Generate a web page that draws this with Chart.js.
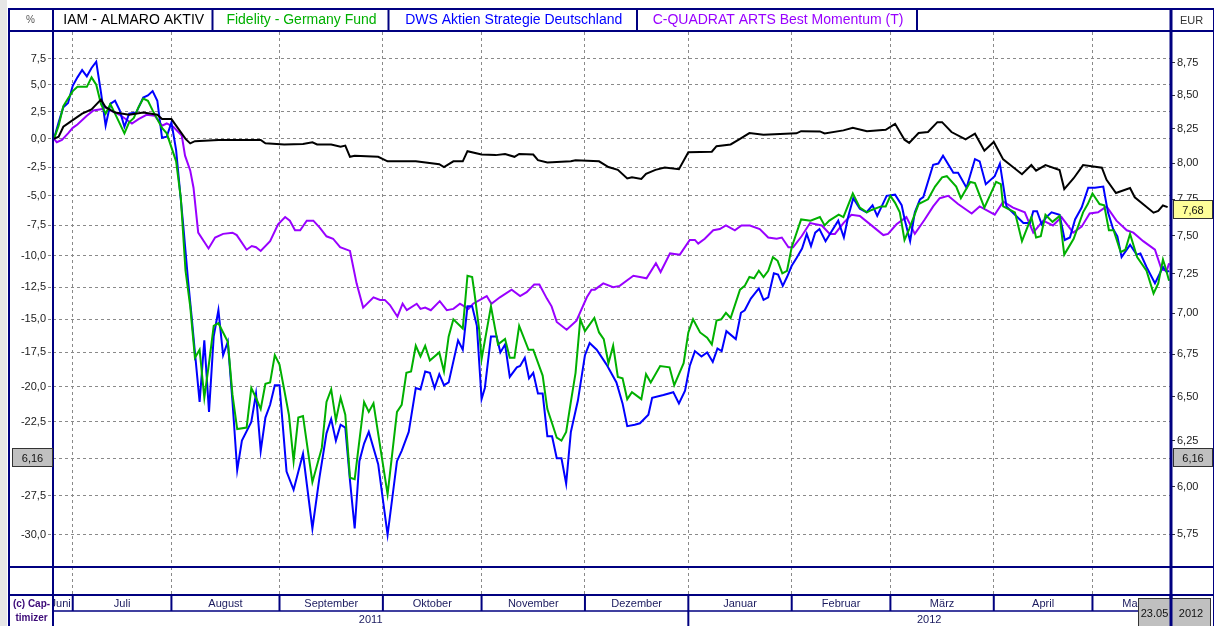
<!DOCTYPE html>
<html>
<head>
<meta charset="utf-8">
<title>IAM - ALMARO AKTIV im Vergleich</title>
<script src="https://cdn.jsdelivr.net/npm/chart.js"></script>
<style>
  html, body { margin: 0; padding: 0; background: #fff; }
</style>
</head>
<body>
<canvas id="chart" width="1215" height="626"></canvas>
<script>
// x = trading day since 27.06.2011 (0) ... 23.05.2012 (237), y = performance in %
const iam = [
  [0,0],[1,0.2],[2,1.1],[4,1.7],[6,2.3],[8,2.7],[10,3.6],[11,2.9],[13,2.4],[16,2.2],
  [19,2.4],[22,2.2],[23,1.8],[25,1.8],[26,1.2],[28,0],[29,-0.4],[30,-0.2],[35,-0.1],[44,-0.1],
  [45,-0.4],[49,-0.5],[53,-0.45],[55,-0.3],[56,-0.5],[59,-0.5],[61,-0.7],[62,-0.6],[63,-1.6],[64,-1.5],
  [69,-1.6],[71,-2.0],[77,-2.0],[82,-2.25],[83,-2.5],[85,-2.0],[87,-2.0],[88,-1.1],[91,-1.4],[94,-1.45],
  [96,-1.35],[98,-1.6],[99,-1.35],[102,-1.4],[103,-1.9],[105,-2.1],[110,-2.0],[111,-1.9],[116,-2.0],[118,-2.5],
  [120,-2.75],[122,-3.5],[123,-3.4],[125,-3.55],[126,-3.1],[128,-2.75],[130,-2.55],[133,-2.7],[135,-1.2],[140,-1.15],
  [141,-0.65],[144,-0.5],[146,0],[148,0.53],[151,0.38],[158,0.5],[159,0.7],[163,0.68],[164,0.5],[168,0.77],
  [170,1.0],[173,0.7],[177,0.83],[179,1.37],[181,-0.07],[182,-0.36],[184,0.53],[186,0.62],[188,1.52],[189,1.52],
  [191,0.62],[194,-0.04],[196,0.47],[198,-1.06],[200,-0.27],[202,-1.83],[204,-2.47],[206,-3.13],[208,-2.33],[209,-2.82],
  [211,-2.33],[214,-2.77],[215,-4.42],[217,-3.48],[219,-2.33],[223,-2.56],[224,-3.62],[226,-4.76],[229,-4.33],[230,-5.12],
  [234,-6.43],[235,-6.29],[236,-5.82],[237,-5.96]
];
const fidelity = [
  [0,0],[1,1.2],[2,3.0],[3,3.7],[4,4.4],[5,4.8],[7,4.8],[8,5.7],[9,5.0],[10,3.2],
  [11,2.3],[12,3.2],[13,2.3],[15,0.5],[16,1.5],[17,1.9],[18,2.9],[19,3.7],[20,3.5],[21,2.6],
  [23,1.0],[24,0.5],[26,-2.0],[27,-5.2],[28,-11.2],[29,-14.0],[30,-17.9],[31,-17.3],[32,-20.8],[33,-18.3],
  [34,-15.5],[35,-15.3],[37,-16.7],[38,-20.6],[39,-23.0],[41,-22.9],[42,-20.1],[43,-20.8],[44,-21.6],[45,-19.8],
  [46,-19.7],[47,-17.7],[48,-18.4],[50,-22.0],[51,-25.2],[52,-22.2],[53,-22.1],[55,-26.6],[57,-24.3],[58,-21.1],
  [59,-20.2],[60,-22.4],[61,-20.8],[62,-22.0],[63,-26.3],[64,-26.4],[66,-21.1],[67,-21.8],[68,-21.2],[71,-27.4],
  [73,-21.8],[74,-21.3],[75,-19.0],[76,-18.9],[77,-17.0],[78,-17.8],[79,-17.0],[80,-18.1],[82,-17.5],[83,-18.9],
  [84,-16.3],[85,-15.0],[87,-15.7],[88,-11.6],[89,-11.7],[89.5,-13.0],[90.5,-15.8],[91,-18.0],[93,-14.0],[94.5,-16.9],
  [96,-16.5],[97,-17.9],[98,-17.9],[99,-15.5],[101,-17.3],[102,-17.3],[104,-19.2],[105,-21.6],[106,-22.6],[107,-23.6],
  [108,-23.8],[109,-23.2],[110,-21.1],[111,-19.0],[112,-15.0],[113,-15.9],[115,-14.9],[116,-16.0],[117,-16.5],[118,-18.3],
  [119,-17.0],[120,-19.3],[121,-19.4],[122,-20.9],[123,-20.4],[125,-20.9],[126,-19.1],[127,-19.7],[129,-18.5],[131,-18.6],
  [132,-19.9],[134,-18.3],[135,-16.0],[136,-15.0],[137.5,-16.0],[139,-16.4],[140,-16.9],[141,-15.1],[142,-15.0],[143,-14.5],
  [144,-14.9],[146,-12.7],[147,-12.4],[148,-11.7],[149,-11.8],[150,-11.2],[151,-11.7],[152,-11.2],[153,-10.1],[154,-10.4],
  [155,-11.4],[156,-11.2],[157,-9.3],[159,-7.0],[161,-7.1],[163,-6.8],[164,-7.5],[165,-7.1],[167,-6.6],[168,-6.8],
  [170,-4.8],[171.5,-6.0],[173,-6.4],[174,-6.2],[176,-5.9],[177,-5.9],[178,-5.0],[179,-5.6],[180,-6.4],[181,-8.7],
  [182,-7.8],[184,-5.7],[186,-5.3],[187.5,-4.2],[189,-3.4],[190,-3.3],[192,-4.2],[193,-5.2],[195,-3.8],[196,-3.9],
  [198,-6.0],[200.5,-3.8],[201.5,-4.0],[202,-5.9],[204.5,-6.4],[206,-8.8],[208,-6.8],[209,-8.5],[210,-8.4],[211,-6.6],
  [212.5,-7.2],[214,-6.7],[215,-9.9],[217,-8.6],[219,-6.4],[220,-5.7],[221,-4.8],[222.5,-5.7],[223.5,-5.8],[224.5,-7.9],
  [225.5,-7.9],[227,-9.7],[228,-9.5],[229,-8.2],[230.5,-10.1],[232.5,-11.2],[234,-13.0],[235,-12.2],[236,-10.3],[236.5,-10.9],
  [237.3,-12.0]
];
const dws = [
  [0,0],[1,1.5],[2,2.9],[3,3.3],[4,4.9],[5,5.7],[6,6.4],[7,5.8],[8,6.6],[9,7.2],
  [10,4.3],[11,1.2],[12,3.2],[13,3.5],[14,2.6],[15,1.1],[16,2.3],[17.5,2.4],[19,3.8],[20,4.0],
  [21,4.4],[22,3.5],[23,0.1],[24,0.2],[25,1.5],[26,-1.0],[27.5,-7.4],[28.5,-11.8],[29.3,-14.8],[30,-17.5],
  [31,-21.1],[32,-16.6],[33,-21.8],[34,-16.3],[35,-14.3],[36,-17.7],[37,-16.7],[38,-21.1],[39,-25.8],[40,-23.8],
  [42,-22.5],[43,-20.5],[44,-24.5],[45,-22.2],[46,-21.3],[47,-19.9],[48,-19.9],[49.5,-25.9],[51,-27.1],[53,-24.7],
  [55,-29.6],[56.5,-26.3],[58,-23.3],[59,-22.3],[60,-23.8],[61,-22.7],[62,-22.9],[63,-26.5],[64,-29.6],[65,-25.2],
  [66,-24.0],[67,-23.2],[69,-25.4],[71,-30.0],[73,-25.2],[74,-24.5],[75.5,-23.2],[77,-20.1],[78,-20.2],[79,-18.9],
  [80,-19.0],[81,-20.1],[82,-19.1],[83,-19.9],[84,-19.7],[86,-16.6],[87,-17.3],[88,-14.0],[89,-14.0],[90,-15.5],
  [91,-20.9],[91.7,-20.1],[93,-16.3],[94.2,-16.3],[95,-17.5],[96,-16.9],[97,-19.3],[98.5,-18.6],[99.2,-18.5],[100.2,-17.9],
  [101.1,-19.4],[102,-19.0],[103,-20.5],[104,-20.5],[105,-23.5],[106,-23.5],[107,-25.0],[108,-25.0],[109,-26.7],[110,-23.2],
  [111.5,-21.0],[113,-17.7],[114,-16.8],[115.5,-17.3],[117.6,-18.4],[119.7,-19.7],[121,-21.2],[122,-22.8],[123.6,-22.7],[124.7,-22.6],
  [126.5,-22.0],[127.3,-20.8],[129.7,-20.6],[131.8,-20.4],[133,-21.2],[134.3,-20.3],[135.3,-18.5],[136.4,-17.4],[137.8,-17.8],[139,-17.5],
  [140.2,-18.2],[141.2,-17.2],[142.1,-17.4],[143.1,-15.9],[145.1,-16.5],[146.2,-14.5],[147,-14.3],[148.3,-13.4],[150,-12.6],[151,-13.5],
  [152,-13.3],[153.2,-11.4],[154.1,-11.5],[155.1,-12.4],[156,-11.7],[157,-10.8],[158,-10.2],[159.2,-9.4],[160.2,-8.2],[161.1,-9.2],
  [162,-8.1],[162.9,-7.8],[164.2,-8.8],[165.3,-8.1],[166.9,-7.1],[168.1,-8.5],[169,-6.8],[170.1,-5.2],[171.5,-6.1],[172.9,-6.4],
  [174.2,-5.8],[175.2,-6.7],[177.2,-5.0],[179,-4.9],[180.4,-5.8],[181.1,-7.1],[182.2,-8.8],[183.2,-6.4],[184.3,-5.3],[185,-5.1],
  [187.1,-2.3],[188.2,-2.2],[189.2,-1.5],[191.4,-3.0],[192.4,-3.0],[194.2,-4.3],[196,-1.8],[197,-2.0],[198.3,-4.0],[200.2,-3.3],
  [201.3,-2.2],[202.7,-5.9],[206.3,-7.3],[207.7,-7.3],[208.4,-6.3],[209.2,-6.3],[210.2,-7.4],[211.2,-6.8],[212.3,-6.4],[214,-6.6],
  [215.1,-8.7],[216.2,-8.5],[217.3,-7.0],[218.7,-6.0],[220.1,-4.3],[221.5,-4.3],[223.3,-4.2],[224.3,-6.4],[225.4,-7.8],[226.3,-8.4],
  [227.2,-10.1],[229,-9.1],[230.4,-9.9],[231.2,-9.8],[232.5,-10.9],[234.3,-12.2],[236,-10.9],[236.8,-11.3],[237.3,-11.2]
];
const cquadrat = [
  [0,0],[0.6,-0.3],[1.7,-0.1],[3,0.5],[4,1.0],[5,1.3],[7,2.1],[8.4,2.6],[10,2.7],[11,2.9],
  [12,2.6],[14,2.2],[16.6,1.4],[18,1.8],[19.7,2.2],[21.5,2.1],[23,1.2],[24,1.4],[25.4,1.1],[27.2,0.3],
  [27.9,-1.5],[29,-2.8],[29.7,-4.3],[30.7,-8.1],[32.9,-9.4],[34.3,-8.5],[36,-8.2],[38,-8.1],[38.9,-8.3],[41,-9.5],
  [42.1,-9.2],[43,-9.3],[44,-9.6],[46,-8.8],[47.7,-7.4],[49.2,-6.8],[50.2,-7.1],[51.3,-7.9],[52.4,-7.9],[53.8,-7.1],
  [55.2,-7.1],[56.6,-7.7],[58,-8.4],[59.4,-8.6],[60.9,-9.3],[63,-9.6],[64.4,-12.2],[65.8,-14.1],[68,-13.3],[69.4,-13.5],
  [70.4,-13.5],[71.5,-13.9],[73.1,-14.8],[74.2,-13.8],[75.1,-14.3],[77.2,-13.8],[78,-14.2],[79,-14.1],[80.2,-14.3],[82.1,-13.6],
  [83.6,-14.3],[85,-14.2],[86.4,-13.8],[88.2,-14.2],[89.2,-13.8],[92.1,-13.2],[93.1,-13.8],[94.9,-13.3],[97.4,-12.7],[99.2,-13.2],
  [100.6,-12.9],[102.2,-12.3],[103.3,-12.3],[104.9,-13.4],[105.9,-14.0],[107,-15.2],[109.1,-15.8],[111.2,-15.1],[113.4,-13.3],[114.4,-12.7],
  [115.1,-12.7],[116.9,-12.2],[119,-12.5],[120.4,-12.4],[123.3,-11.6],[124.7,-11.7],[126.1,-11.8],[128.1,-10.6],[129.1,-11.3],[131.1,-9.8],
  [133.2,-9.9],[135.3,-8.7],[136.4,-8.7],[137.1,-9.0],[138.5,-8.6],[140.3,-7.9],[141.7,-7.8],[143,-7.5],[144.9,-7.9],[146.3,-7.5],
  [148.1,-7.5],[150.2,-7.8],[152,-8.5],[153.8,-8.6],[154.9,-8.5],[156.3,-9.3],[157.3,-9.3],[159.1,-8.4],[160.9,-7.3],[163.4,-7.5],
  [165.1,-8.2],[166.2,-8.2],[168,-7.3],[169.7,-6.6],[171.5,-6.7],[174.3,-7.6],[176.5,-8.3],[177.5,-8.2],[179.3,-7.4],[181.4,-6.8],
  [183.2,-8.2],[185.3,-7.0],[187.1,-5.9],[188.5,-5.2],[190.3,-5.0],[192.4,-5.7],[195.3,-6.5],[197,-5.9],[200.2,-6.6],[202,-5.5],
  [204.1,-6.0],[206.6,-6.4],[208.4,-8.1],[210.5,-7.1],[212.6,-7.5],[214.4,-6.8],[216.9,-8.1],[218.7,-7.6],[220.4,-6.5],[222.2,-6.4],
  [224,-5.9],[226.1,-7.1],[228.3,-7.9],[229.7,-8.1],[231.8,-8.8],[234.3,-9.5],[235.7,-11.1],[236.8,-11.2],[237.3,-10.6]
];

const seriesNames = ['IAM - ALMARO AKTIV', 'Fidelity - Germany Fund', 'DWS Aktien Strategie Deutschland', 'C-QUADRAT ARTS Best Momentum (T)'];
const monthNames = ['Juni', 'Juli', 'August', 'September', 'Oktober', 'November', 'Dezember', 'Januar', 'Februar', 'März', 'April', 'Mai'];
const monthStarts = [0, 4, 25, 48, 70, 91, 113, 135, 157, 178, 200, 221];
const yearNames = ['2011', '2012'];
const yearStarts = [0, 135];
const dayRange = [-0.2, 237.5];
const pctTicks = [7.5, 5, 2.5, 0, -2.5, -5, -7.5, -10, -12.5, -15, -17.5, -20, -22.5, -25, -27.5, -30];
const eurTicks = [8.75, 8.5, 8.25, 8, 7.75, 7.5, 7.25, 7, 6.75, 6.5, 6.25, 6, 5.75];
const pctRange = [-31.615, 10.11];
const basePrice = 8.167;   // IAM price at 0 %
const lastPrice = 7.68;
const markPrice = 6.16;
const lastDate = '23.05';
const lastYear = '2012';

const navy = '#000080';
const colors = ['#000000', '#00b000', '#0000ff', '#9900ff'];
const FONT = '"Liberation Sans", Arial, sans-serif';

const toPoints = s => s.map(([d, p]) => ({ x: d, y: 1 + p / 100 }));
const comma = (v, n) => v.toFixed(n).replace('.', ',');

const chrome = {
  id: 'chrome',
  beforeDraw(chart) {
    const ctx = chart.ctx;
    ctx.save();
    ctx.fillStyle = '#ffffff';
    ctx.fillRect(0, 0, chart.width, chart.height);
    ctx.fillStyle = '#e6e6e6';
    ctx.fillRect(0, 0, 7, chart.height);
    ctx.restore();
  },
  afterDraw(chart) {
    const { ctx, chartArea: a, scales } = chart;
    const x = scales.x, yR = scales.y2;
    const L = 8, R = 1213, T = 8, B = chart.height;
    const bandBottom = a.bottom + 28;
    const yearTop = bandBottom + 16;

    ctx.save();
    ctx.strokeStyle = navy;
    const hline = (x1, x2, y, w) => { ctx.lineWidth = w; ctx.beginPath(); ctx.moveTo(x1, y); ctx.lineTo(x2, y); ctx.stroke(); };
    const vline = (xx, y1, y2, w) => { ctx.lineWidth = w; ctx.beginPath(); ctx.moveTo(xx, y1); ctx.lineTo(xx, y2); ctx.stroke(); };

    // frame
    hline(L, R, T + 1, 2);
    vline(L + 1, T, B, 2);
    vline(R + 0.5, T, B, 1);
    hline(L, R, a.top - 1, 2);
    hline(L, R, a.bottom, 2);
    hline(L, R, bandBottom, 2);
    hline(a.left, a.right, yearTop, 1.5);
    vline(a.left, T, B, 2);
    vline(a.right + 1, T, B, 3);

    // header legend
    const cells = [a.left, 212.5, 388.5, 637, 917];
    cells.slice(1).forEach(c => vline(c, T, a.top - 1, 2));
    const headY = (T + a.top) / 2 + 0.5;
    ctx.textBaseline = 'middle';
    ctx.textAlign = 'center';
    ctx.font = '14px ' + FONT;
    seriesNames.forEach((n, i) => {
      ctx.fillStyle = colors[i];
      ctx.fillText(n, (cells[i] + cells[i + 1]) / 2 + 1, headY);
    });
    ctx.font = '10px ' + FONT;
    ctx.fillStyle = '#555';
    ctx.fillText('%', (L + a.left) / 2, headY);
    ctx.textAlign = 'left';
    ctx.font = '11px ' + FONT;
    ctx.fillStyle = '#333';
    ctx.fillText('EUR', a.right + 10, headY);

    // month row
    const mb = monthStarts.map((d, i) => i === 0 ? a.left : x.getPixelForValue(d));
    mb.push(a.right);
    ctx.font = '11px ' + FONT;
    ctx.fillStyle = '#1a1a5e';
    const midMonth = (bandBottom + yearTop) / 2 + 1;
    monthNames.forEach((n, i) => {
      const x1 = mb[i], x2 = mb[i + 1];
      if (i > 0) vline(x1, bandBottom, yearTop, 2);
      ctx.save();
      ctx.beginPath(); ctx.rect(x1 + 1, bandBottom, x2 - x1 - 2, yearTop - bandBottom); ctx.clip();
      const w = ctx.measureText(n).width;
      if (w > x2 - x1 - 4) { ctx.textAlign = 'right'; ctx.fillText(n, x2 - 2, midMonth); }
      else { ctx.textAlign = 'center'; ctx.fillText(n, (x1 + x2) / 2, midMonth); }
      ctx.restore();
    });

    // year row
    const yb = yearStarts.map((d, i) => i === 0 ? a.left : x.getPixelForValue(d));
    yb.push(a.right);
    const midYear = (yearTop + B) / 2 + 1;
    ctx.textAlign = 'center';
    yearNames.forEach((n, i) => {
      if (i > 0) vline(yb[i], yearTop, B, 2);
      ctx.fillText(n, (yb[i] + yb[i + 1]) / 2, midYear);
    });

    // copyright cell
    ctx.font = 'bold 10px ' + FONT;
    ctx.fillStyle = '#3c0a78';
    ctx.fillText('(c) Cap-', (L + a.left) / 2 + 1, bandBottom + 9);
    ctx.fillText('timizer', (L + a.left) / 2 + 1, bandBottom + 23);

    // value boxes
    const box = (x1, yc, w, h, fill, text) => {
      const y1 = Math.round(yc - h / 2) + 0.5;
      ctx.fillStyle = fill;
      ctx.fillRect(x1, y1, w, h);
      ctx.lineWidth = 1;
      ctx.strokeStyle = '#333';
      ctx.strokeRect(x1 + 0.5, y1, w, h);
      ctx.fillStyle = '#111';
      ctx.font = '11px ' + FONT;
      ctx.textAlign = 'center';
      ctx.textBaseline = 'middle';
      ctx.fillText(text, x1 + w / 2 + 0.5, y1 + h / 2 + 1);
    };
    box(a.right + 3, yR.getPixelForValue(lastPrice), 39, 18, '#ffff99', comma(lastPrice, 2));
    box(a.right + 3, yR.getPixelForValue(markPrice), 39, 18, '#c0c0c0', comma(markPrice, 2));
    box(L + 4, yR.getPixelForValue(markPrice), 40, 18, '#c0c0c0', comma(markPrice, 2));
    box(a.right - 32, (bandBottom + 3 + B) / 2, 32, B - bandBottom - 3, '#c0c0c0', lastDate);
    box(a.right + 1, (bandBottom + 3 + B) / 2, 39, B - bandBottom - 3, '#c0c0c0', lastYear);
    ctx.strokeStyle = navy;
    vline(a.right + 1, bandBottom, B, 3);
    ctx.restore();
  }
};

new Chart(document.getElementById('chart'), {
  type: 'line',
  data: {
    datasets: [iam, fidelity, dws, cquadrat].map((s, i) => ({
      label: seriesNames[i],
      data: toPoints(s),
      borderColor: colors[i],
      xAxisID: 'x',
      yAxisID: 'y'
    }))
  },
  options: {
    responsive: false,
    devicePixelRatio: 1,
    animation: false,
    layout: { padding: { left: 8, right: 0, top: 32, bottom: 31 } },
    elements: { point: { radius: 0 }, line: { borderWidth: 2, tension: 0 } },
    plugins: { legend: { display: false }, tooltip: { enabled: false } },
    scales: {
      x: {
        type: 'linear',
        min: dayRange[0],
        max: dayRange[1],
        afterBuildTicks: s => { s.ticks = monthStarts.slice(1).map(v => ({ value: v })); },
        afterFit: s => { s.height = 28; },
        ticks: { display: false },
        grid: { color: '#8a8a8a', lineWidth: 1, drawTicks: true, tickLength: 28, tickColor: '#8a8a8a', tickBorderDash: [3, 3] },
        border: { display: false, dash: [3, 3] }
      },
      y: {
        type: 'logarithmic',
        position: 'left',
        min: 1 + pctRange[0] / 100,
        max: 1 + pctRange[1] / 100,
        afterBuildTicks: s => { s.ticks = pctTicks.map(p => ({ value: 1 + p / 100 })); },
        afterFit: s => { s.width = 45; },
        ticks: {
          autoSkip: false,
          padding: 2,
          color: '#1a1a1a',
          font: { family: FONT, size: 11 },
          callback: v => comma(Math.round((v - 1) * 1000) / 10, 1)
        },
        grid: { color: '#8a8a8a', lineWidth: 1, drawTicks: true, tickLength: 5, tickColor: '#8a8a8a', tickBorderDash: [3, 3] },
        border: { display: false, dash: [3, 3] }
      },
      y2: {
        type: 'logarithmic',
        position: 'right',
        min: (1 + pctRange[0] / 100) * basePrice,
        max: (1 + pctRange[1] / 100) * basePrice,
        afterBuildTicks: s => { s.ticks = eurTicks.map(v => ({ value: v })); },
        afterFit: s => { s.width = 45; },
        ticks: {
          autoSkip: false,
          padding: 2,
          color: '#1a1a1a',
          font: { family: FONT, size: 11 },
          callback: v => comma(v, 2)
        },
        grid: { drawOnChartArea: false, drawTicks: true, tickLength: 5, tickColor: '#333', color: '#333' },
        border: { display: false }
      }
    }
  },
  plugins: [chrome]
});
</script>
</body>
</html>
